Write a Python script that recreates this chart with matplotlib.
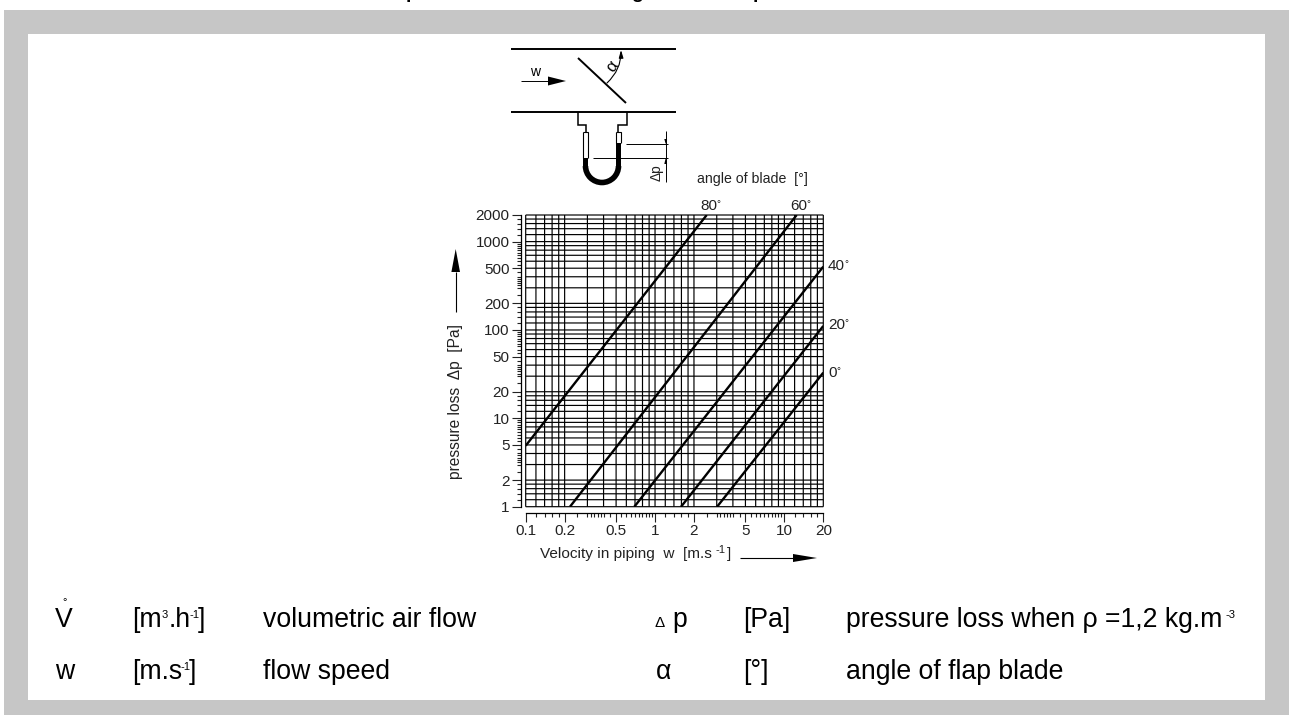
import matplotlib
matplotlib.use("Agg")
import matplotlib.pyplot as plt
from matplotlib.ticker import NullFormatter
from matplotlib.patches import Rectangle, Polygon, Wedge, FancyArrowPatch

plt.rcParams['font.family'] = ['Liberation Sans', 'DejaVu Sans']

# ---- data
blade_angles = ["80", "60", "40", "20", "0"]
curve_w = [[0.1, 2.51], [0.22, 12.45], [0.692, 20], [1.59, 20], [3.02, 20]]
curve_dp = [[4.9, 2000], [1, 2000], [1, 521], [1, 111], [1, 32.9]]
x_major = [0.1, 0.2, 0.5, 1, 2, 5, 10, 20]
y_major = [1, 2, 5, 10, 20, 50, 100, 200, 500, 1000, 2000]
grid_mant = [1, 1.2, 1.4, 1.6, 1.8, 2, 3, 4, 5, 6, 7, 8, 9]
tick_mant = [1, 1.2, 1.4, 1.6, 1.8, 2, 2.5, 3, 3.2, 3.4, 3.6, 3.8, 4, 4.5, 5, 5.5, 6, 6.5, 7, 7.5, 8, 8.5, 9, 9.5]
x_decades = [0.1, 1, 10]
y_decades = [1, 10, 100, 1000]
x_range = (0.1, 20)
y_range = (1, 2000)

W, H = 1290, 715
fig = plt.figure(figsize=(W / 100, H / 100), dpi=100, facecolor='white')

# ---- pixel overlay: frame, schematic, legend text
px = fig.add_axes([0, 0, 1, 1], zorder=0)
px.set_xlim(0, W)
px.set_ylim(H, 0)
px.axis('off')
px.add_patch(Rectangle((4, 10), 1285, 705, fc='#c6c6c6', ec='none'))
px.add_patch(Rectangle((28, 34), 1237, 666, fc='white', ec='none'))

# title is cut by the image edge: only descenders show
for tx, ch in [(412, 'p'), (637, 'g'), (759, 'p')]:
    px.text(tx, -2, ch, fontsize=14, fontweight='bold', ha='center', va='baseline', color='black')


def line(xs, ys, lw=1.0, c='black'):
    px.plot(xs, ys, color=c, lw=lw, solid_capstyle='butt', solid_joinstyle='miter')


# pipe and blade
line([511, 676], [49.3, 49.3], 1.4)
line([511, 676], [112, 112], 1.4)
line([578, 626], [58, 103], 1.4)
px.add_patch(FancyArrowPatch((607, 83), (621, 50), connectionstyle='arc3,rad=0.22',
                             arrowstyle='-|>,head_length=0.45,head_width=0.13', lw=0.8, color='black',
                             shrinkA=0, shrinkB=0, mutation_scale=10))
px.text(612, 66, 'α', fontsize=12, rotation=55, ha='center', va='center')
px.text(535, 72, 'w', fontsize=10, ha='center', va='center')
line([521, 548], [81, 81], 0.7)
px.add_patch(Polygon([[548, 76.5], [566, 81], [548, 85.5]], fc='black', ec='none'))

# tappings and U-tube
line([577.5, 577.5, 586, 586], [112, 125, 125, 132], 1.1)
line([627, 627, 618, 618], [112, 125, 125, 132], 1.1)
line([583, 588, 588], [132, 132, 158], 0.8)
line([583, 583], [132, 158], 0.8)
line([616, 621, 621], [132, 132, 143], 0.8)
line([616, 616], [132, 143], 0.8)
px.add_patch(Rectangle((582.7, 158), 5.6, 8, fc='black', ec='none'))
px.add_patch(Rectangle((615.7, 143), 5.6, 23, fc='black', ec='none'))
px.add_patch(Wedge((602, 166), 19.3, 0, 180, width=5.6, fc='black', ec='none'))

# level dimension
line([626, 668], [144, 144], 0.7)
line([593, 668], [158, 158], 0.7)
line([665.7, 665.7], [131, 182], 0.7)
px.add_patch(Polygon([[664.3, 139], [667.1, 139], [665.7, 144]], fc='black', ec='none'))
px.add_patch(Polygon([[664.3, 164], [667.1, 164], [665.7, 158]], fc='black', ec='none'))
px.text(657, 173, 'Δp', fontsize=10, rotation=90, ha='center', va='center', color='#222222')

px.text(697, 179, 'angle of blade  [°]', fontsize=10.2, ha='left', va='center', color='#222222')

# axis annotation
px.text(455.7, 401.5, 'pressure loss  Δp  [Pa]', fontsize=11.2, rotation=90, ha='center', va='center', color='#222222')
line([455.7, 455.7], [312, 272], 0.8)
px.add_patch(Polygon([[451.4, 272], [455.7, 249], [460, 272]], fc='black', ec='none'))
px.text(540, 558, 'Velocity in piping  w  [m.s', fontsize=11.1, ha='left', va='baseline', color='#222222')
px.text(716, 553, '-1', fontsize=8, ha='left', va='baseline', color='#222222')
px.text(727, 558, ']', fontsize=11.1, ha='left', va='baseline', color='#222222')
line([740, 793], [558, 558], 0.8)
px.add_patch(Polygon([[793, 554], [817, 558], [793, 562]], fc='black', ec='none'))

# legend rows
FS = 19.2
SUP = 8
ROW1, ROW2 = 627, 679


def label(x, y, s, fs=FS, **kw):
    px.text(x, y, s, fontsize=fs, ha='left', va='baseline', color='black', **kw)


label(55, ROW1, 'V')
px.text(64.8, 602, '°', fontsize=8, ha='center', va='center')
label(132, ROW1, '[m')
label(161.5, ROW1 - 9, '3', SUP)
label(169, ROW1, '.h')
label(189.5, ROW1 - 9, '-1', SUP)
label(198, ROW1, ']')
label(263, ROW1, 'volumetric air flow')
label(55, ROW2, 'w')
label(132, ROW2, '[m.s')
label(180.5, ROW2 - 9, '-1', SUP)
label(189, ROW2, ']')
label(263, ROW2, 'flow speed')
label(654.5, ROW1, 'Δ', 11)
label(672, ROW1, 'p')
label(743, ROW1, '[Pa]')
label(846, ROW1, 'pressure loss when ρ =1,2 kg.m')
label(1225, ROW1 - 9, '-3', SUP)
label(656, ROW2, 'α')
label(743, ROW2, '[°]')
label(846, ROW2, 'angle of flap blade')

# ---- log-log chart
L, R, T, B = 525.7, 823.3, 215, 506.7
ax = fig.add_axes([L / W, 1 - B / H, (R - L) / W, (B - T) / H], zorder=1)
ax.patch.set_alpha(0)
ax.set_xscale('log')
ax.set_yscale('log')
ax.set_xlim(*x_range)
ax.set_ylim(*y_range)


def in_range(decades, mant, lim):
    vals = [d * m for d in decades for m in mant]
    return [v for v in vals if lim[0] * 0.999 <= v <= lim[1] * 1.001] + [lim[1]]


xg = sorted(set(in_range(x_decades, grid_mant, x_range)))
yg = sorted(set(in_range(y_decades, grid_mant, y_range)))
vl = ax.vlines(xg, *y_range, color='black', lw=0.85, zorder=1)
hl = ax.hlines(yg, *x_range, color='black', lw=0.85, zorder=1)
for coll in (vl, hl):
    coll.set_snap(False)
    coll.set_clip_on(False)

for xs, ys in zip(curve_w, curve_dp):
    ax.plot(xs, ys, color='black', lw=1.7, zorder=3, solid_capstyle='butt')

ax.spines['top'].set_visible(False)
ax.spines['right'].set_visible(False)
ax.spines['left'].set_position(('outward', 3.6))
ax.spines['bottom'].set_position(('outward', 4.4))
ax.spines['left'].set_linewidth(0.9)
ax.spines['bottom'].set_linewidth(0.9)
ax.set_xticks(x_major)
ax.set_xticklabels([str(v) for v in x_major])
ax.set_yticks(y_major)
ax.set_yticklabels([str(v) for v in y_major])
ax.set_xticks(in_range(x_decades, tick_mant, x_range), minor=True)
ax.set_yticks(in_range(y_decades, tick_mant, y_range), minor=True)
ax.xaxis.set_minor_formatter(NullFormatter())
ax.yaxis.set_minor_formatter(NullFormatter())
ax.tick_params(which='major', length=6.5, width=0.8, labelsize=11, pad=1.5, colors='#222222')
ax.tick_params(which='minor', length=3.2, width=0.8, colors='#222222')

# curve labels, positioned beside each curve's end
label_pos = [(700, 206), (790, 206), (828, 266), (828, 325), (828, 373)]
for (tx, ty), s in zip(label_pos, blade_angles):
    px.text(tx, ty, s, fontsize=11, ha='left', va='center', color='#222222', zorder=5)
    px.text(tx + 8.5 * len(s) - 0.5, ty - 2, '°', fontsize=7, ha='left', va='center', color='#222222', zorder=5)

fig.savefig('out.png', dpi=100)
